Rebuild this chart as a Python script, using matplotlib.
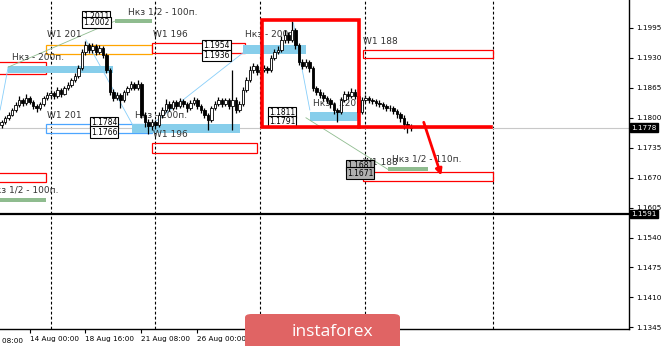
import matplotlib
matplotlib.use("Agg")
import matplotlib.pyplot as plt
import matplotlib.patches as mpatches
import matplotlib.transforms as mtransforms

# H4 bars, index 0 = Mon 17 Aug 00:00
closes = [1.1791, 1.1800, 1.1806, 1.1817, 1.1828, 1.1839, 1.1832, 1.1843, 1.1834, 1.1826,
          1.1821, 1.1830, 1.1843, 1.1850, 1.1854, 1.1847, 1.1860, 1.1852, 1.1865, 1.1871,
          1.1882, 1.1891, 1.1908, 1.1943, 1.1958, 1.1947, 1.1956, 1.1943, 1.1952, 1.1937,
          1.1904, 1.1856, 1.1843, 1.1850, 1.1839, 1.1856, 1.1865, 1.1874, 1.1865, 1.1874,
          1.1806, 1.1791, 1.1782, 1.1791, 1.1785, 1.1806, 1.1817, 1.1830, 1.1821, 1.1834,
          1.1826, 1.1837, 1.1830, 1.1821, 1.1832, 1.1839, 1.1826, 1.1817, 1.1806, 1.1795,
          1.1821, 1.1830, 1.1839, 1.1830, 1.1839, 1.1826, 1.1839, 1.1817, 1.1830, 1.1860,
          1.1882, 1.1904, 1.1913, 1.1900, 1.1904, 1.1908, 1.1904, 1.1930, 1.1943, 1.1947,
          1.1969, 1.1980, 1.1969, 1.1991, 1.1958, 1.1921, 1.1913, 1.1921, 1.1908, 1.1865,
          1.1856, 1.1850, 1.1843, 1.1839, 1.1830, 1.1817, 1.1813, 1.1839, 1.1852, 1.1847,
          1.1856, 1.1847, 1.1813, 1.1839, 1.1843, 1.1839, 1.1837, 1.1832, 1.1830, 1.1826,
          1.1821, 1.1821, 1.1815, 1.1808, 1.1800, 1.1787, 1.1782, 1.1778]
highs = [1.1796, 1.1804, 1.1812, 1.1822, 1.1835, 1.1848, 1.1843, 1.1851, 1.1847, 1.1838,
         1.1830, 1.1834, 1.1848, 1.1856, 1.1860, 1.1858, 1.1866, 1.1864, 1.1870, 1.1878,
         1.1887, 1.1897, 1.1914, 1.1950, 1.1966, 1.1963, 1.1962, 1.1961, 1.1958, 1.1956,
         1.1941, 1.1908, 1.1862, 1.1857, 1.1853, 1.1861, 1.1870, 1.1880, 1.1878, 1.1882,
         1.1878, 1.1812, 1.1797, 1.1798, 1.1795, 1.1812, 1.1824, 1.1840, 1.1836, 1.1839,
         1.1838, 1.1842, 1.1841, 1.1834, 1.1838, 1.1845, 1.1843, 1.1830, 1.1821, 1.1810,
         1.1826, 1.1836, 1.1845, 1.1843, 1.1844, 1.1842, 1.1904, 1.1845, 1.1836, 1.1866,
         1.1888, 1.1912, 1.1920, 1.1917, 1.1910, 1.1914, 1.1912, 1.1936, 1.1950, 1.1955,
         1.1978, 1.1990, 1.1986, 1.2011, 1.1996, 1.1962, 1.1928, 1.1927, 1.1925, 1.1912,
         1.1870, 1.1862, 1.1855, 1.1848, 1.1844, 1.1835, 1.1822, 1.1846, 1.1859, 1.1858,
         1.1865, 1.1862, 1.1852, 1.1845, 1.1850, 1.1848, 1.1844, 1.1841, 1.1838, 1.1835,
         1.1831, 1.1827, 1.1825, 1.1819, 1.1812, 1.1805, 1.1792, 1.1786]
lows = [1.1778, 1.1787, 1.1796, 1.1803, 1.1813, 1.1824, 1.1826, 1.1828, 1.1829, 1.1820,
        1.1812, 1.1816, 1.1826, 1.1839, 1.1844, 1.1840, 1.1843, 1.1846, 1.1849, 1.1860,
        1.1866, 1.1877, 1.1886, 1.1903, 1.1937, 1.1940, 1.1941, 1.1937, 1.1938, 1.1930,
        1.1897, 1.1850, 1.1836, 1.1838, 1.1822, 1.1834, 1.1850, 1.1860, 1.1860, 1.1861,
        1.1800, 1.1780, 1.1765, 1.1774, 1.1776, 1.1781, 1.1800, 1.1812, 1.1815, 1.1817,
        1.1819, 1.1822, 1.1824, 1.1812, 1.1817, 1.1828, 1.1820, 1.1810, 1.1799, 1.1774,
        1.1790, 1.1816, 1.1825, 1.1824, 1.1826, 1.1820, 1.1774, 1.1810, 1.1812, 1.1826,
        1.1855, 1.1878, 1.1898, 1.1893, 1.1895, 1.1899, 1.1897, 1.1900, 1.1925, 1.1938,
        1.1943, 1.1963, 1.1962, 1.1965, 1.1950, 1.1914, 1.1906, 1.1908, 1.1900, 1.1858,
        1.1850, 1.1844, 1.1836, 1.1832, 1.1822, 1.1808, 1.1791, 1.1808, 1.1834, 1.1840,
        1.1842, 1.1840, 1.1800, 1.1808, 1.1834, 1.1832, 1.1830, 1.1826, 1.1824, 1.1820,
        1.1815, 1.1814, 1.1808, 1.1800, 1.1791, 1.1775, 1.1768, 1.1771]
opens = [1.1785] + closes[:-1]
first_bar = -14
bars = list(range(first_bar, first_bar + len(closes)))

price_ticks = [1.1345, 1.1410, 1.1475, 1.1540, 1.1605, 1.1670, 1.1735, 1.1800, 1.1865, 1.1930, 1.1995]
time_ticks = [-6, 10, 26, 42, 58, 74]
time_labels = ["14 Aug 00:00", "18 Aug 16:00", "21 Aug 08:00",
               "26 Aug 00:00", "28 Aug 16:00", "2 Sep 08:00"]
cut_tick = (-22, "13 Aug 08:00")
separators = [0, 30, 60, 90, 126.4]
bid_price = 1.1778
black_level = 1.1591

# zones: (x0, x1, top, bottom, face, edge)
zones = [
    (-15, -1.3, 1.1921, 1.1895, "none", "#ff0000"),
    (-12.1, 17.9, 1.1913, 1.1897, "#87ceeb", "none"),
    (-1.3, 29, 1.1958, 1.1939, "none", "#ffa500"),
    (18.4, 29, 1.2015, 1.2006, "#8fbc8f", "none"),
    (29, 55.7, 1.1962, 1.1941, "none", "#ff0000"),
    (55, 73, 1.1958, 1.1939, "#87ceeb", "none"),
    (-1.3, 29, 1.1787, 1.1767, "none", "#4da6ff"),
    (23.3, 54.1, 1.1787, 1.1767, "#87ceeb", "none"),
    (29, 59, 1.1745, 1.1724, "none", "#ff0000"),
    (-15, -1.3, 1.1680, 1.1661, "none", "#ff0000"),
    (-15, -1.3, 1.1626, 1.1617, "#8fbc8f", "none"),
    (74.1, 88.1, 1.1813, 1.1793, "#87ceeb", "none"),
    (89.3, 126.4, 1.1947, 1.1930, "none", "#ff0000"),
    (89.3, 126.4, 1.1682, 1.1663, "none", "#ff0000"),
    (96.4, 107.9, 1.1693, 1.1684, "#8fbc8f", "none"),
]
labels = [
    ("Нкз 1/2 - 100п.", 22.1, 1.2030),
    ("W1 201", -1, 1.1980),
    ("Нкз - 200п.", -11, 1.1932),
    ("W1 196", 29.3, 1.1980),
    ("Нкз - 200п.", 55.7, 1.1980),
    ("W1 201", -1, 1.1806),
    ("Нкз - 200п.", 24.1, 1.1804),
    ("W1 196", 29.3, 1.1763),
    ("Нкз - 220п.", 75, 1.1832),
    ("W1 188", 89.3, 1.1965),
    ("W1 188", 89.3, 1.1702),
    ("Нкз 1/2 - 110п.", 97.6, 1.1711),
    ("Нкз 1/2 - 100п.", -17.6, 1.1643),
]
# price tags: (text, x, price, face)
tags = [
    ("1.2011", 9.3, 1.2019, "white"), ("1.2002", 9.3, 1.2007, "white"),
    ("1.1954", 43.6, 1.1956, "white"), ("1.1936", 43.6, 1.1936, "white"),
    ("1.1784", 11.5, 1.1789, "white"), ("1.1766", 11.5, 1.1769, "white"),
    ("1.1811", 62.4, 1.1811, "white"), ("1.1791", 62.4, 1.1792, "white"),
    ("1.1681", 84.7, 1.1696, "#b0b0b0"), ("1.1671", 84.7, 1.1680, "#b0b0b0"),
]
# thin trend lines: (x0, p0, x1, p1, colour)
trend_lines = [
    (-14.4, 1.1817, -12.1, 1.1910, "#87cefa"),
    (-12.1, 1.1910, 18.4, 1.2010, "#8fbc8f"),
    (10.1, 1.1969, 23.3, 1.1787, "#87cefa"),
    (28, 1.1780, 55, 1.1941, "#87cefa"),
    (69.4, 1.2006, 74.1, 1.1817, "#87cefa"),
    (73, 1.1800, 96.4, 1.1688, "#8fbc8f"),
]
box_x = (60.4, 88.1)
box_p = (1.2012, 1.1781)
red_line = (88.1, 125.9, 1.1780)
arrow = (106.4, 1.1796, 111.9, 1.1669)

fig = plt.figure(figsize=(6.65, 3.46), dpi=100)
ax = fig.add_axes([0, 17 / 346, 629 / 665, 329 / 346])

for s in ["top", "left"]:
    ax.spines[s].set_visible(False)
ax.spines["right"].set_linewidth(1)
ax.spines["bottom"].set_linewidth(1)
ax.yaxis.tick_right()
ax.set_yticks(price_ticks)
ax.set_yticklabels([f"{p:.4f}" for p in price_ticks])
ax.set_xticks(time_ticks)
ax.set_xticklabels(time_labels, ha="left")
ax.tick_params(axis="both", labelsize=5.2, length=3, width=0.8, pad=2)
ax.set_xlim(-14.43, 165.3)
ax.set_ylim(1.13413, 1.20558)

# first time label sits mostly left of the picture
ax.text(cut_tick[0], -0.027, cut_tick[1], transform=mtransforms.blended_transform_factory(
    ax.transData, ax.transAxes), fontsize=5.2, ha="left", va="top", clip_on=False)

for sx in separators:
    ax.axvline(sx, color="black", lw=0.8, ls=(0, (2.5, 2)), zorder=1)
ax.axhline(bid_price, color="#c8c8c8", lw=0.8, zorder=1)
ax.axhline(black_level, color="black", lw=1.6, zorder=1)

for x0, x1, top, bot, fc, ec in zones:
    ax.add_patch(mpatches.Rectangle((x0, bot), x1 - x0, top - bot, facecolor=fc,
                                    edgecolor=ec, lw=0.9, zorder=2))
for x0, p0, x1, p1, c in trend_lines:
    ax.plot([x0, x1], [p0, p1], color=c, lw=0.6, zorder=2)
for txt, x, p in labels:
    ax.text(x, p, txt, fontsize=6.5, color="#333333", va="center", ha="left",
            zorder=2, clip_on=True)

# candles
ax.vlines(bars, lows, highs, color="black", lw=0.9, zorder=3)
body_h = [c - o for o, c in zip(opens, closes)]
body_c = ["white" if c >= o else "black" for o, c in zip(opens, closes)]
ax.bar(bars, body_h, bottom=opens, width=0.7, color=body_c, edgecolor="black",
       lw=0.6, zorder=4)

for txt, x, p, fc in tags:
    ax.text(x, p, txt, fontsize=5.5, va="center", ha="left", zorder=5,
            bbox=dict(boxstyle="square,pad=0.15", fc=fc, ec="black", lw=0.8))

ax.add_patch(mpatches.Rectangle((box_x[0], box_p[1]), box_x[1] - box_x[0],
                                box_p[0] - box_p[1], fill=False, ec="#ff0000",
                                lw=2.6, zorder=6))
ax.plot([red_line[0], red_line[1]], [red_line[2], red_line[2]], color="#ff0000",
        lw=2.6, zorder=6)
ax.annotate("", xy=(arrow[2], arrow[3]), xytext=(arrow[0], arrow[1]),
            arrowprops=dict(arrowstyle="-|>", color="#ff0000", lw=2,
                            mutation_scale=9), zorder=6)

tr = mtransforms.blended_transform_factory(ax.transAxes, ax.transData)
for p in [bid_price, black_level]:
    ax.text(1.004, p, f"{p:.4f}", transform=tr, fontsize=5.2, color="white",
            va="center", ha="left", zorder=7,
            bbox=dict(boxstyle="square,pad=0.2", fc="black", ec="black"))

# watermark
fig.patches.append(mpatches.FancyBboxPatch((245 / 665, -0.05), 155 / 665, 32 / 346 + 0.05,
                                           boxstyle="round,pad=0,rounding_size=0.01",
                                           transform=fig.transFigure, fc="#e06464",
                                           ec="none", zorder=10))
fig.text(332 / 665, 14 / 346, "instaforex", color="white", fontsize=12.5,
         family="Open Sans", ha="center", va="center", zorder=11)

fig.savefig("out.png", dpi=100)
